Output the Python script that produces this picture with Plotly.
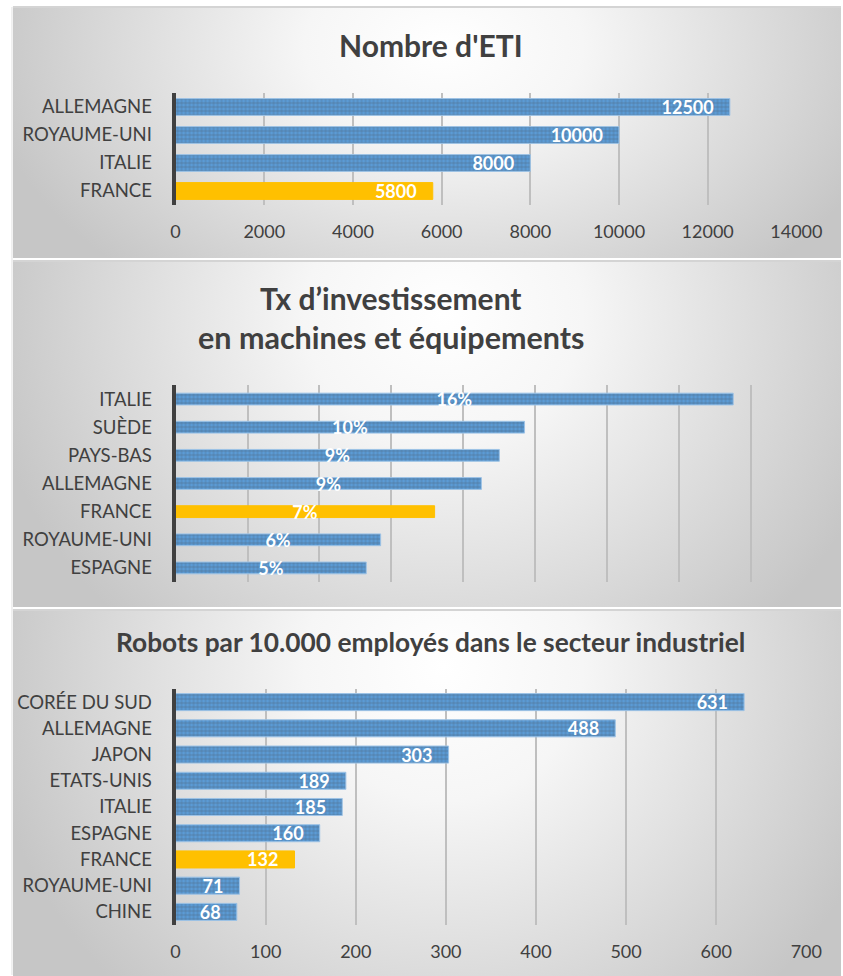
import base64
import plotly.graph_objects as go

# ---------------- data ----------------
eti_countries = ["ALLEMAGNE", "ROYAUME-UNI", "ITALIE", "FRANCE"]
eti_values = [12500, 10000, 8000, 5800]

inv_countries = ["ITALIE", "SUÈDE", "PAYS-BAS", "ALLEMAGNE", "FRANCE", "ROYAUME-UNI", "ESPAGNE"]
inv_values = [15.5, 9.7, 9.0, 8.5, 7.2, 5.7, 5.3]  # percent

rob_countries = ["CORÉE DU SUD", "ALLEMAGNE", "JAPON", "ETATS-UNIS", "ITALIE",
                 "ESPAGNE", "FRANCE", "ROYAUME-UNI", "CHINE"]
rob_values = [631, 488, 303, 189, 185, 160, 132, 71, 68]

eti_ticks = [0, 2000, 4000, 6000, 8000, 10000, 12000, 14000]
inv_ticks = [0, 2, 4, 6, 8, 10, 12, 14, 16, 18]
rob_ticks = [0, 100, 200, 300, 400, 500, 600, 700]

titles = ["Nombre d'ETI",
          "Tx d’investissement",
          "en machines et équipements",
          "Robots par 10.000 employés dans le secteur industriel"]

# ---------------- style ----------------
REF_W, H = 843, 976          # reference pixel grid used for positions
FIG_W = 867                  # rendered figure width
FONT = "Lato, 'Open Sans', sans-serif"
BLUE = "#5B9BD5"
BLUE_FG = "#A4C6EA"
GOLD = "#FFC000"
GRID = "#BFBFBF"
AXIS = "#404040"
TXT = "#404040"
PAD = "\u00a0\u00a0\u00a0"


def px_x(p):
    return p / REF_W


def px_y(p):
    return 1 - p / H


def colors(countries):
    return [GOLD if c == "FRANCE" else BLUE for c in countries]


def shapes_for(countries):
    return ["" if c == "FRANCE" else "+" for c in countries]


def edge(countries):
    return ["#FFC000" if c == "FRANCE" else "#9DC3E6" for c in countries]


def bar(countries, values, xa, ya, texttemplate, anchor, width):
    return go.Bar(
        x=values, y=countries, orientation="h",
        xaxis=xa, yaxis=ya, width=width,
        marker=dict(
            color=colors(countries),
            line=dict(width=1, color=edge(countries)),
            pattern=dict(shape=shapes_for(countries), fgcolor=BLUE_FG,
                         bgcolor=colors(countries), size=4, solidity=0.25),
        ),
        texttemplate=texttemplate, textposition="inside",
        insidetextanchor=anchor, textangle=0, constraintext="none",
        textfont=dict(family=FONT, size=18, color="white", weight="bold"),
        hoverinfo="skip", showlegend=False,
    )


fig = go.Figure()
fig.add_trace(bar(eti_countries, eti_values, "x", "y", "%{x:d}" + PAD, "end", 0.6))
fig.add_trace(bar(inv_countries, inv_values, "x2", "y2", "%{x:.0f}%", "middle", 0.42))
fig.add_trace(bar(rob_countries, rob_values, "x3", "y3", "%{x:d}" + PAD, "end", 0.65))


# background panels (radial gradient, white centre -> grey edges)
def panel_svg():
    svg = (
        "<svg xmlns='http://www.w3.org/2000/svg' width='835' height='300' "
        "viewBox='0 0 835 300' preserveAspectRatio='none'>"
        "<defs><radialGradient id='g' cx='0.52' cy='0.15' r='0.56' "
        "gradientTransform='translate(0.52 0.15) scale(1 2.2) translate(-0.52 -0.15)'>"
        "<stop offset='0' stop-color='#ffffff'/>"
        "<stop offset='0.3' stop-color='#f6f6f6'/>"
        "<stop offset='1' stop-color='#c6c6c6'/>"
        "</radialGradient></defs>"
        "<rect x='0' y='0' width='835' height='300' fill='url(#g)'/>"
        "</svg>"
    )
    return "data:image/svg+xml;base64," + base64.b64encode(svg.encode()).decode()


panels = [(8, 258), (262, 607), (611, 976)]
images = []
for top, bot in panels:
    images.append(dict(source=panel_svg(), xref="paper", yref="paper",
                       x=px_x(8), y=px_y(top), sizex=1 - px_x(8), sizey=(bot - top) / H,
                       xanchor="left", yanchor="top", sizing="stretch", layer="below"))

shapes = []
for top, bot in panels:
    shapes.append(dict(type="line", xref="paper", yref="paper",
                       x0=px_x(8), x1=1, y0=px_y(top - 1), y1=px_y(top - 1),
                       line=dict(color="#D4D4D4", width=2), layer="below"))
shapes.append(dict(type="line", xref="paper", yref="paper",
                   x0=px_x(7), x1=px_x(7), y0=px_y(975), y1=px_y(7),
                   line=dict(color="#E2E2E2", width=1), layer="below"))

annotations = [
    dict(text="<b>%s</b>" % titles[0], x=px_x(430), y=px_y(45), font=dict(size=30)),
    dict(text="<b>%s</b>" % titles[1], x=px_x(389), y=px_y(298), font=dict(size=30)),
    dict(text="<b>%s</b>" % titles[2], x=px_x(390), y=px_y(337), font=dict(size=30.5)),
    dict(text="<b>%s</b>" % titles[3], x=px_x(429), y=px_y(642), font=dict(size=26.3)),
]
for a in annotations:
    a.update(xref="paper", yref="paper", showarrow=False, xanchor="center", yanchor="middle")
    a["font"].update(family=FONT, color=TXT)


def xax(domain, rng, ticks, show):
    return dict(domain=domain, range=rng, tickvals=ticks, tickformat="d",
                showticklabels=show,
                showgrid=True, gridcolor=GRID, gridwidth=1.5, zeroline=False,
                showline=False, ticks="", ticklabelstandoff=14,
                tickfont=dict(family=FONT, size=18, color=TXT), fixedrange=True)


def yax(domain, anchor):
    return dict(domain=domain, anchor=anchor, autorange="reversed", showgrid=False,
                showline=True, linecolor=AXIS, linewidth=4, ticks="",
                ticklabelstandoff=16, zeroline=False,
                tickfont=dict(family=FONT, size=18.5, color=TXT), fixedrange=True)


fig.update_layout(
    autosize=False,
    width=FIG_W, height=H, margin=dict(l=0, r=0, t=0, b=0, pad=0),
    paper_bgcolor="white", plot_bgcolor="rgba(0,0,0,0)",
    images=images, shapes=shapes, annotations=annotations,
    xaxis=dict(xax([px_x(172), px_x(798)], [0, 14000], eti_ticks, True), anchor="y"),
    yaxis=yax([px_y(205), px_y(93)], "x"),
    xaxis2=dict(xax([px_x(172), px_x(825)], [0, 18], inv_ticks, False), anchor="y2"),
    yaxis2=yax([px_y(582), px_y(385)], "x2"),
    xaxis3=dict(xax([px_x(172), px_x(808)], [0, 700], rob_ticks, True), anchor="y3"),
    yaxis3=yax([px_y(925), px_y(689)], "x3"),
)

fig.write_html("out.html", config={"responsive": False, "displayModeBar": False})
